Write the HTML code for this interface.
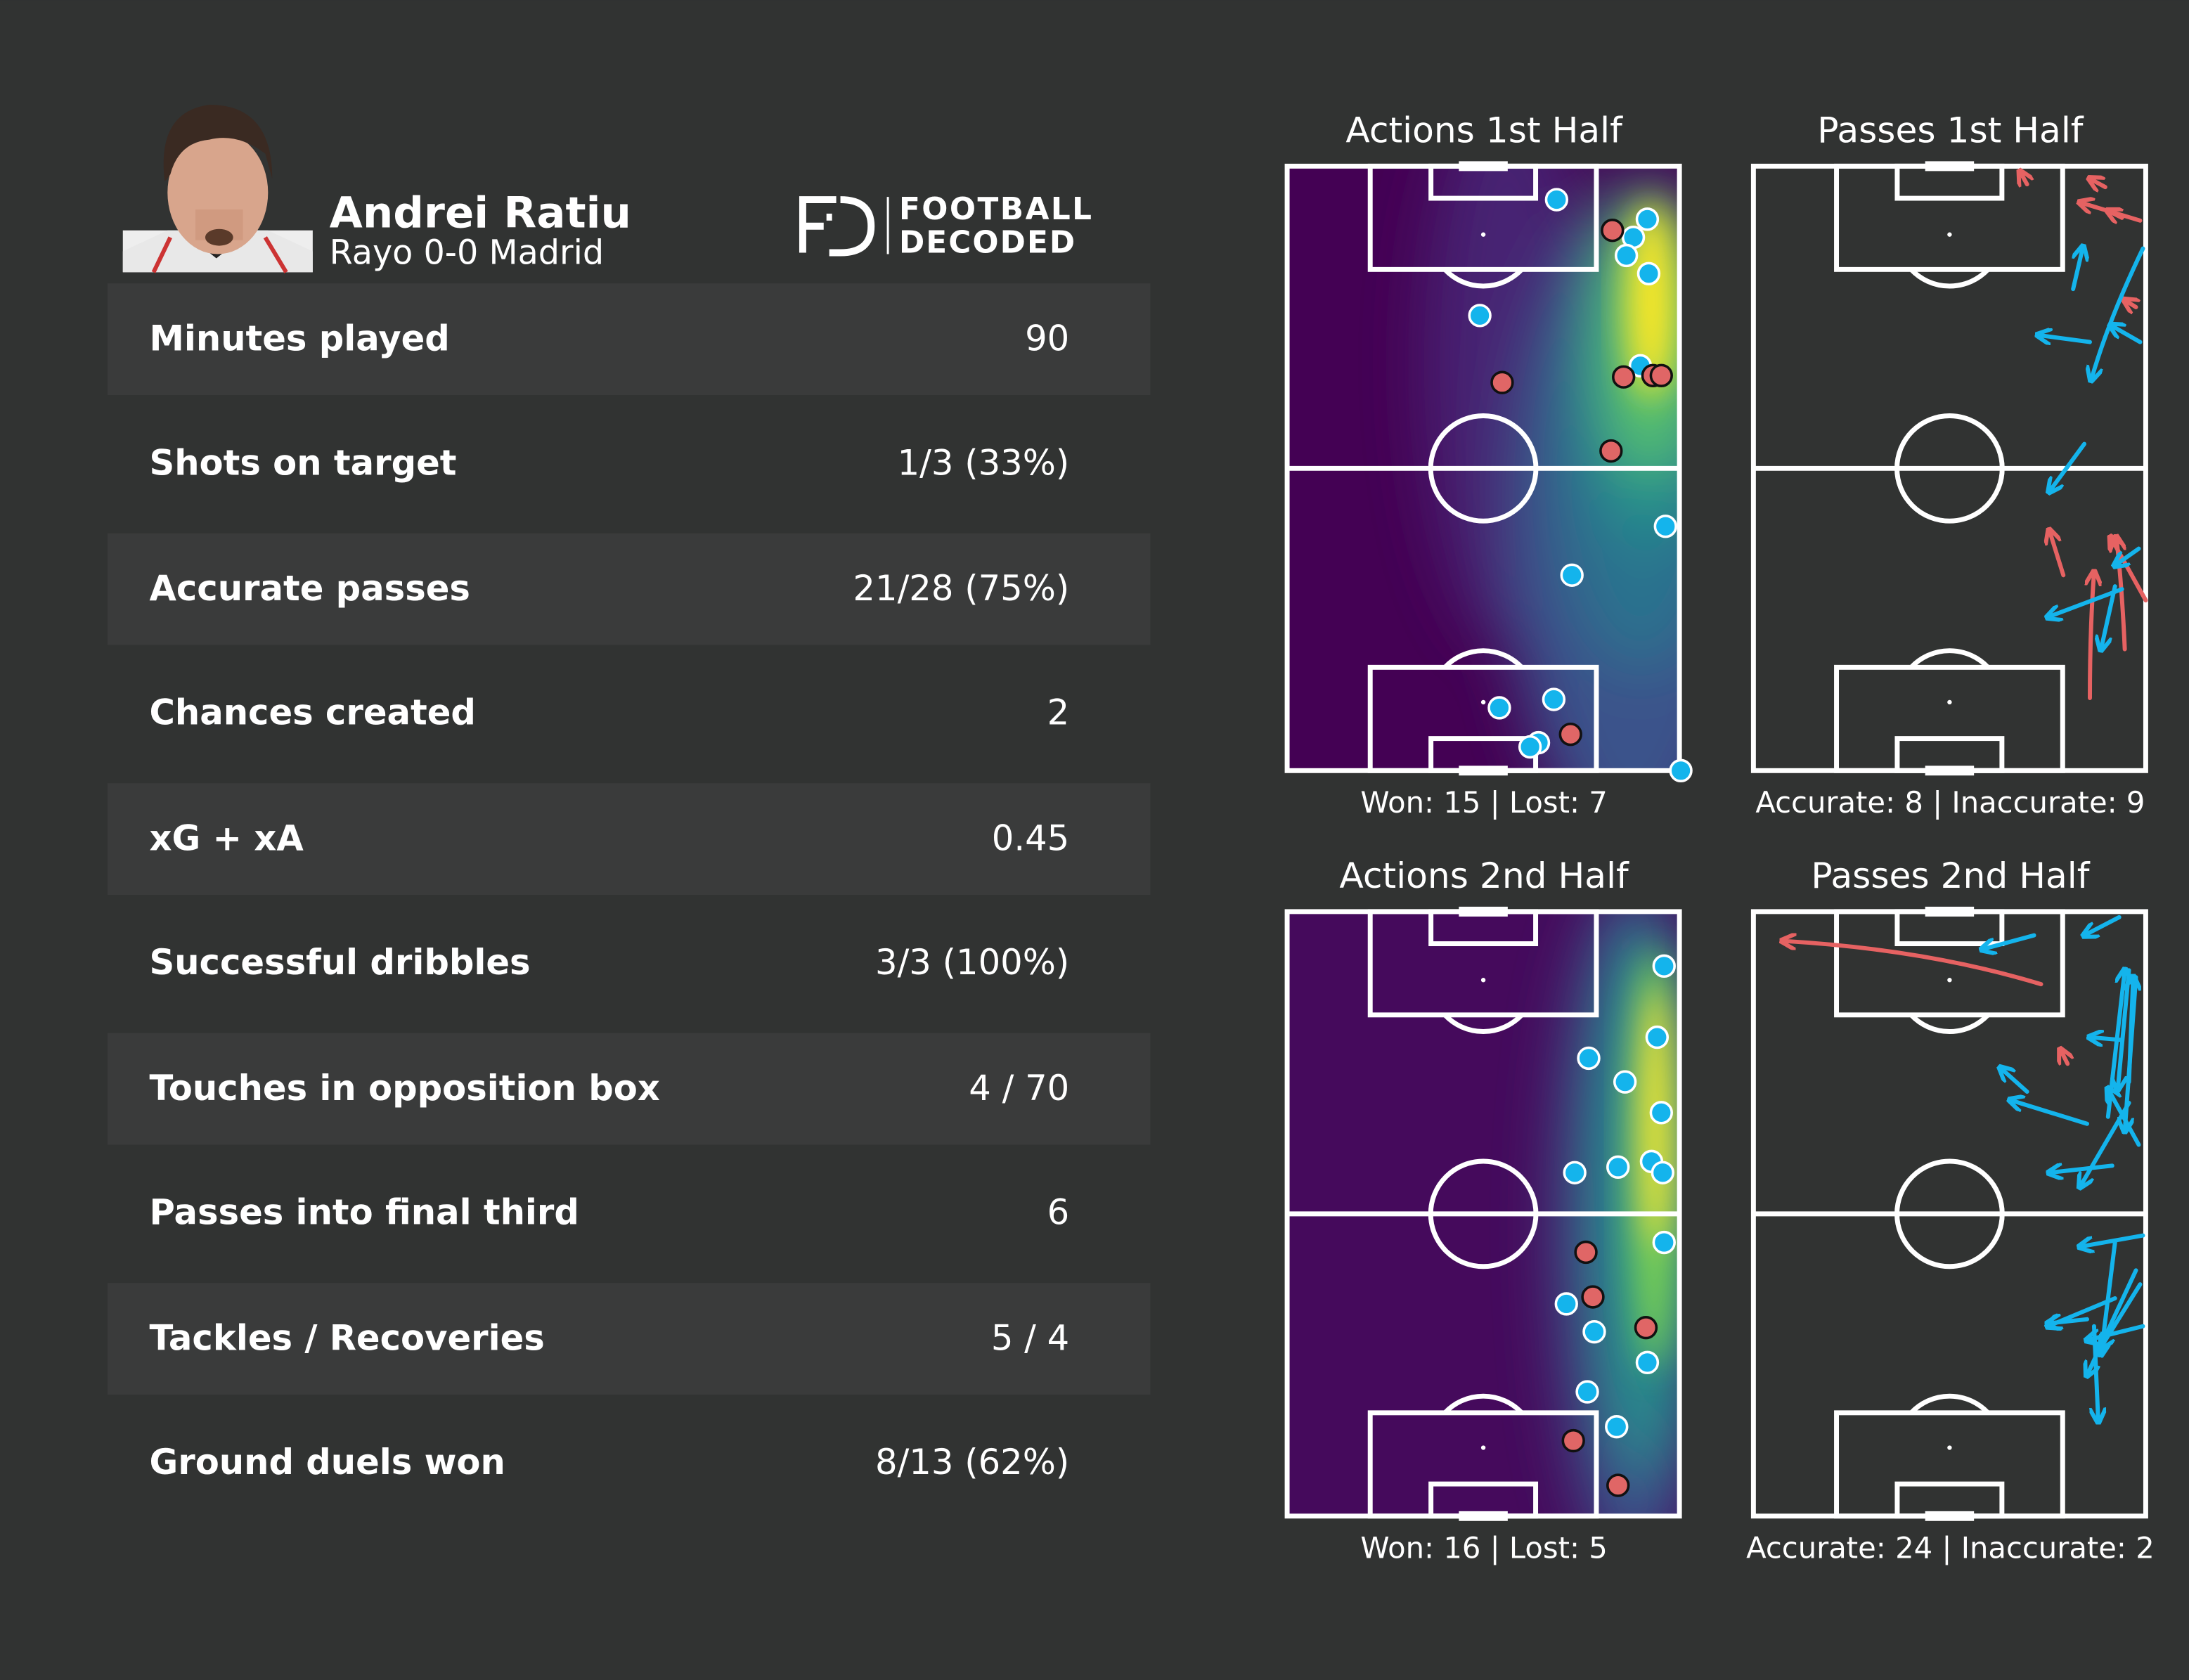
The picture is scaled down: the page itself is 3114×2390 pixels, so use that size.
<!DOCTYPE html>
<html><head><meta charset="utf-8"><style>
html,body{margin:0;padding:0;background:#313332;}
svg{display:block;}
text{font-family:"DejaVu Sans","Liberation Sans",sans-serif;fill:#fff;}
</style></head><body>
<svg width="3114" height="2390" viewBox="0 0 1568 1203.4" xmlns="http://www.w3.org/2000/svg">
<defs>
<filter id="bl" x="-50%" y="-50%" width="200%" height="200%"><feGaussianBlur stdDeviation="22"/></filter>
<filter id="bl2" x="-50%" y="-50%" width="200%" height="200%"><feGaussianBlur stdDeviation="12"/></filter>
<clipPath id="c1"><rect x="922" y="119" width="281" height="433"/></clipPath>
<clipPath id="c2"><rect x="922" y="653" width="281" height="433"/></clipPath>
<marker id="ab" viewBox="0 0 10 10" refX="8" refY="5" markerWidth="4" markerHeight="4" orient="auto"><path d="M0,0 L10,5 L0,10" fill="none" stroke="#14b4ec" stroke-width="2.5"/></marker>
<marker id="ar" viewBox="0 0 10 10" refX="8" refY="5" markerWidth="4" markerHeight="4" orient="auto"><path d="M0,0 L10,5 L0,10" fill="none" stroke="#e66262" stroke-width="2.5"/></marker>
<g id="pitch" fill="none" stroke="#fff" stroke-width="3.5">
<rect x="0" y="0" width="281" height="433"/>
<line x1="0" y1="216.5" x2="281" y2="216.5"/>
<circle cx="140.5" cy="216.5" r="37.7"/>
<rect x="59.5" y="0" width="162" height="74"/>
<rect x="103" y="0" width="75" height="23"/>
<rect x="59.5" y="359" width="162" height="74"/>
<rect x="103" y="410" width="75" height="23"/>
<path d="M113,74 A37.7,37.7 0 0 0 168,74"/>
<path d="M113,359 A37.7,37.7 0 0 1 168,359"/>
<line x1="123" y1="0" x2="158" y2="0" stroke-width="7"/>
<line x1="123" y1="433" x2="158" y2="433" stroke-width="7"/>
<circle cx="140.5" cy="49" r="1.6" fill="#fff" stroke="none"/>
<circle cx="140.5" cy="384" r="1.6" fill="#fff" stroke="none"/>
</g>
</defs>
<rect width="1568" height="1204" fill="#313332"/>

<!-- photo -->
<rect x="88" y="165" width="136" height="30" fill="#eee"/>
<path d="M88,195 L88,180 L120,165 L192,165 L224,180 L224,195Z" fill="#e8e8e8"/>
<path d="M130,165 L155,185 L180,165Z" fill="#222"/>
<path d="M122,170 L110,195 M190,170 L205,195" stroke="#c33" stroke-width="3"/>
<ellipse cx="156" cy="138" rx="36" ry="44" fill="#d8a58c"/>
<rect x="140" y="150" width="34" height="22" fill="#d09a80"/>
<path d="M118,130 Q112,80 150,75 Q195,75 195,128 L190,110 Q170,95 150,100 Q128,102 122,125Z" fill="#3a2a22"/>
<ellipse cx="157" cy="170" rx="10" ry="6" fill="#5a3a2a"/>

<text x="236" y="163" font-size="30.7" font-weight="bold">Andrei Ratiu</text>
<text x="236" y="189" font-size="24">Rayo 0-0 Madrid</text>

<!-- logo -->
<g fill="none" stroke="#fff" stroke-width="5">
<path d="M599,143 L575,143 L575,181 M575,162 L590,162"/>
<path d="M602,143 Q624,143 624,162 Q624,181 602,181 L594,181"/>
</g>
<rect x="592" y="153" width="4" height="5" fill="#fff"/>
<line x1="636" y1="141" x2="636" y2="182" stroke="#fff" stroke-width="1.5"/>
<text x="644" y="157" font-size="22" font-weight="bold" font-family="Liberation Sans Narrow, DejaVu Sans Condensed, sans-serif" textLength="138">FOOTBALL</text>
<text x="644" y="181" font-size="22" font-weight="bold" font-family="Liberation Sans Narrow, DejaVu Sans Condensed, sans-serif" textLength="126">DECODED</text>

<!-- table -->
<g fill="#3a3b3b">
<rect x="77" y="203" width="747" height="80"/>
<rect x="77" y="382" width="747" height="80"/>
<rect x="77" y="561" width="747" height="80"/>
<rect x="77" y="740" width="747" height="80"/>
<rect x="77" y="919" width="747" height="80"/>
</g>
<g font-size="25">
<text x="107" y="251" font-weight="bold">Minutes played</text><text x="766" y="251" text-anchor="end">90</text>
<text x="107" y="340" font-weight="bold">Shots on target</text><text x="766" y="340" text-anchor="end">1/3 (33%)</text>
<text x="107" y="430" font-weight="bold">Accurate passes</text><text x="766" y="430" text-anchor="end">21/28 (75%)</text>
<text x="107" y="519" font-weight="bold">Chances created</text><text x="766" y="519" text-anchor="end">2</text>
<text x="107" y="609" font-weight="bold">xG + xA</text><text x="766" y="609" text-anchor="end">0.45</text>
<text x="107" y="698" font-weight="bold">Successful dribbles</text><text x="766" y="698" text-anchor="end">3/3 (100%)</text>
<text x="107" y="788" font-weight="bold">Touches in opposition box</text><text x="766" y="788" text-anchor="end">4 / 70</text>
<text x="107" y="877" font-weight="bold">Passes into final third</text><text x="766" y="877" text-anchor="end">6</text>
<text x="107" y="967" font-weight="bold">Tackles / Recoveries</text><text x="766" y="967" text-anchor="end">5 / 4</text>
<text x="107" y="1056" font-weight="bold">Ground duels won</text><text x="766" y="1056" text-anchor="end">8/13 (62%)</text>
</g>

<!-- titles -->
<g font-size="25.3" text-anchor="middle">
<text x="1063" y="102">Actions 1st Half</text>
<text x="1397" y="102">Passes 1st Half</text>
<text x="1063" y="636">Actions 2nd Half</text>
<text x="1397" y="636">Passes 2nd Half</text>
</g>
<g font-size="21" text-anchor="middle">
<text x="1063" y="582">Won: 15 | Lost: 7</text>
<text x="1397" y="582">Accurate: 8 | Inaccurate: 9</text>
<text x="1063" y="1116">Won: 16 | Lost: 5</text>
<text x="1397" y="1116">Accurate: 24 | Inaccurate: 2</text>
</g>

<!-- heatmap 1 -->
<g clip-path="url(#c1)">
<rect x="922" y="119" width="281" height="433" fill="#440154"/>
<g filter="url(#bl)">
<ellipse cx="1080" cy="260" rx="60" ry="200" fill="#472d7b" opacity="0.8"/>
<ellipse cx="1170" cy="380" rx="90" ry="230" fill="#3b528b"/>
<ellipse cx="1175" cy="330" rx="60" ry="150" fill="#2c728e"/>
<ellipse cx="1180" cy="260" rx="45" ry="130" fill="#21918c"/>
<ellipse cx="1182" cy="240" rx="30" ry="100" fill="#5ec962"/>
</g>
<g filter="url(#bl2)">
<ellipse cx="1183" cy="215" rx="18" ry="70" fill="#fde725"/>
</g>
</g>
<!-- heatmap 2 -->
<g clip-path="url(#c2)">
<rect x="922" y="653" width="281" height="433" fill="#450a5c"/>
<g filter="url(#bl)">
<ellipse cx="1170" cy="880" rx="55" ry="250" fill="#3b528b"/>
<ellipse cx="1178" cy="860" rx="35" ry="200" fill="#21918c"/>
</g>
<g filter="url(#bl2)">
<ellipse cx="1185" cy="830" rx="18" ry="150" fill="#7ad151"/>
<ellipse cx="1187" cy="800" rx="10" ry="90" fill="#fde725"/>
</g>
</g>

<rect x="1256" y="119" width="281" height="433" fill="#313332"/>
<use href="#pitch" x="922" y="119"/>
<use href="#pitch" x="1256" y="119"/>
<use href="#pitch" x="922" y="653"/>
<use href="#pitch" x="1256" y="653"/>

<!-- action points -->
<g stroke="#fff" stroke-width="1.8" fill="#14b4ec">
<circle cx="1115" cy="143" r="7.5"/><circle cx="1180" cy="157" r="7.5"/><circle cx="1170" cy="170" r="7.5"/>
<circle cx="1165" cy="183" r="7.5"/><circle cx="1181" cy="196" r="7.5"/><circle cx="1060" cy="226" r="7.5"/>
<circle cx="1175" cy="262" r="7.5"/><circle cx="1193" cy="377" r="7.5"/><circle cx="1126" cy="412" r="7.5"/>
<circle cx="1113" cy="501" r="7.5"/><circle cx="1074" cy="507" r="7.5"/><circle cx="1102" cy="532" r="7.5"/>
<circle cx="1096" cy="535" r="7.5"/><circle cx="1204" cy="552" r="7.5"/>
<circle cx="1192" cy="692" r="7.5"/><circle cx="1187" cy="743" r="7.5"/><circle cx="1138" cy="758" r="7.5"/>
<circle cx="1164" cy="775" r="7.5"/><circle cx="1190" cy="797" r="7.5"/><circle cx="1128" cy="840" r="7.5"/>
<circle cx="1159" cy="836" r="7.5"/><circle cx="1183" cy="832" r="7.5"/><circle cx="1191" cy="840" r="7.5"/>
<circle cx="1192" cy="890" r="7.5"/><circle cx="1122" cy="934" r="7.5"/><circle cx="1142" cy="954" r="7.5"/>
<circle cx="1180" cy="976" r="7.5"/><circle cx="1137" cy="997" r="7.5"/><circle cx="1158" cy="1022" r="7.5"/>
</g>
<g stroke="#111" stroke-width="1.8" fill="#e06666">
<circle cx="1155" cy="165" r="7.5"/><circle cx="1076" cy="274" r="7.5"/><circle cx="1163" cy="270" r="7.5"/>
<circle cx="1184" cy="269" r="7.5"/><circle cx="1190" cy="269" r="7.5"/><circle cx="1154" cy="323" r="7.5"/>
<circle cx="1125" cy="526" r="7.5"/>
<circle cx="1136" cy="897" r="7.5"/><circle cx="1141" cy="929" r="7.5"/><circle cx="1179" cy="951" r="7.5"/>
<circle cx="1127" cy="1032" r="7.5"/><circle cx="1159" cy="1064" r="7.5"/>
</g>

<!-- passes 1st -->
<g fill="none" stroke="#e66262" stroke-width="3" stroke-linecap="round" marker-end="url(#ar)">
<path d="M1452,132 L1447,123"/><path d="M1508,134 L1497,128"/><path d="M1533,158 L1490,145"/>
<path d="M1520,156 L1510,151"/><path d="M1530,220 L1522,215"/><path d="M1478,412 L1468,380"/>
<path d="M1497,500 Q1497,450 1500,410"/><path d="M1522,465 Q1520,420 1516,385"/><path d="M1537,430 L1512,385"/>
</g>
<g fill="none" stroke="#14b4ec" stroke-width="3" stroke-linecap="round" marker-end="url(#ab)">
<path d="M1485,207 L1492,177"/><path d="M1535,178 Q1510,230 1498,272"/><path d="M1533,245 L1512,233"/>
<path d="M1497,245 L1460,240"/><path d="M1493,318 L1468,352"/><path d="M1532,393 L1515,405"/>
<path d="M1520,422 L1467,442"/><path d="M1515,420 L1505,465"/>
</g>
<!-- passes 2nd -->
<g fill="none" stroke="#e66262" stroke-width="3" stroke-linecap="round" marker-end="url(#ar)">
<path d="M1462,705 Q1380,680 1277,674"/><path d="M1481,762 L1476,752"/>
</g>
<g fill="none" stroke="#14b4ec" stroke-width="3" stroke-linecap="round" marker-end="url(#ab)">
<path d="M1457,670 L1420,680"/><path d="M1518,657 L1493,670"/><path d="M1525,695 L1517,780"/>
<path d="M1530,700 L1522,810"/><path d="M1520,745 L1497,743"/><path d="M1452,782 L1433,765"/>
<path d="M1495,805 L1440,788"/><path d="M1513,835 L1468,840"/><path d="M1525,790 L1490,850"/>
<path d="M1535,885 L1490,893"/><path d="M1515,890 L1505,970"/><path d="M1533,920 L1505,965"/>
<path d="M1530,910 L1495,985"/><path d="M1515,930 L1467,950"/><path d="M1495,945 L1467,948"/>
<path d="M1535,950 L1495,960"/><path d="M1500,950 L1503,1018"/><path d="M1525,775 L1528,700"/>
<path d="M1510,800 L1522,695"/><path d="M1532,820 L1510,780"/>
</g>
</svg>
</body></html>
